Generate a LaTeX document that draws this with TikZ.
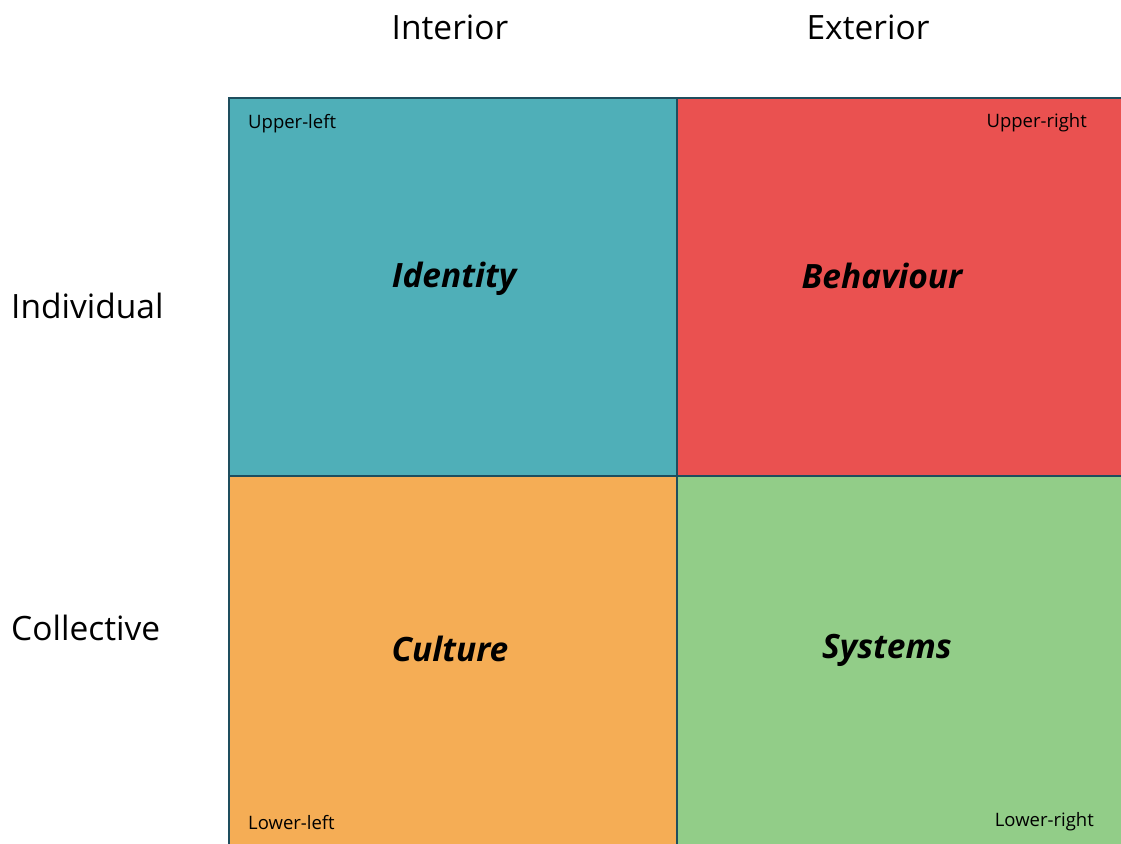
\documentclass[tikz,border=0pt]{standalone}
\usepackage{fontspec}
\setmainfont{Open Sans}
\definecolor{qteal}{HTML}{4FAFB8}
\definecolor{qred}{HTML}{EA5150}
\definecolor{qorange}{HTML}{F5AD55}
\definecolor{qgreen}{HTML}{92CD88}
\definecolor{qline}{HTML}{1E4E5E}
\begin{document}
\begin{tikzpicture}[x=1pt,y=-1pt,
  quad/.style={draw=qline,line width=1.3pt},
  head/.style={font=\fontsize{33.5}{40}\selectfont,inner sep=0pt},
  big/.style={font=\fontsize{33.5}{40}\selectfont\bfseries\itshape,inner sep=0pt},
  small/.style={font=\fontsize{18.5}{22}\selectfont,inner sep=0pt}]
\useasboundingbox (0,0) rectangle (1121,843);
\fill[white] (0,0) rectangle (1121,843);
\path[quad,fill=qteal] (229,98) rectangle (677,476);
\path[quad,fill=qred] (677,98) rectangle (1125,476);
\path[quad,fill=qorange] (229,476) rectangle (677,850);
\path[quad,fill=qgreen] (677,476) rectangle (1125,850);
\node[head] (interior) at (450,27) {Interior};
\node[head] (exterior) at (868,27) {Exterior};
\node[head,anchor=west] (individual) at (11,306) {Individual};
\node[head,anchor=west] (collective) at (11,628) {Collective};
\node[big] (identity) at (454,279) {Identity};
\node[big] (behaviour) at (882,276) {Behaviour};
\node[big] (culture) at (450,649) {Culture};
\node[big] (systems) at (887,650) {Systems};
\node[small,anchor=west] (ul) at (248,124) {Upper-left};
\node[small,anchor=east] (ur) at (1087,123) {Upper-right};
\node[small,anchor=west] (ll) at (248,823) {Lower-left};
\node[small,anchor=east] (lr) at (1094,822) {Lower-right};
\end{tikzpicture}
\end{document}
